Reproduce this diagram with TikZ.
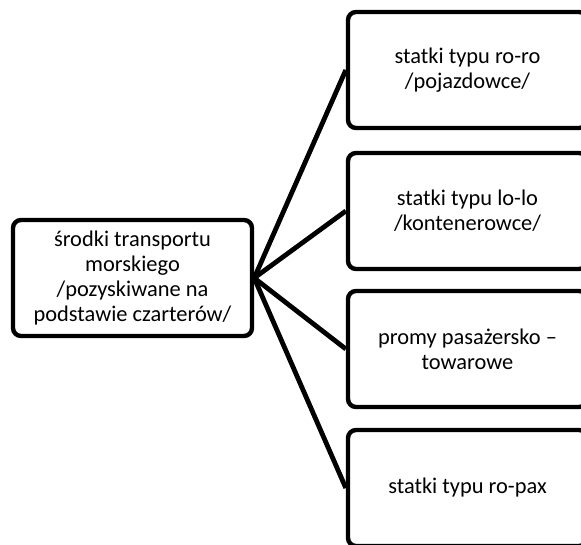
\documentclass[tikz,border=0pt]{standalone}
\usepackage{fontspec}
\setmainfont{Carlito}
\usetikzlibrary{positioning}

\begin{document}
\begin{tikzpicture}[x=0.5pt,y=-0.5pt,
        box/.style={draw, line width=2.2pt, rounded corners=4pt, minimum width=119.5pt, minimum height=58pt,
            align=center, inner sep=0pt, font=\fontsize{11.2}{12.6}\selectfont},
        link/.style={line width=2.4pt}]
                \useasboundingbox (0,0) rectangle (581,544);

                \node[box] (src) at (132.5,278) {środki transportu\\morskiego\\/pozyskiwane na\\podstawie czarterów/};

                \node[box] (roro) at (467.5,70) {statki typu ro-ro\\/pojazdowce/};
                \node[box] (lolo) at (467.5,211) {statki typu lo-lo\\/kontenerowce/};
                \node[box] (promy) at (467.5,349) {promy pasażersko --\\towarowe};
                \node[box] (ropax) at (467.5,488) {statki typu ro-pax};

                \foreach \n in {roro,lolo,promy,ropax}
                    \draw[link] (src.east) -- (\n.west);
            \end{tikzpicture}
\end{document}
